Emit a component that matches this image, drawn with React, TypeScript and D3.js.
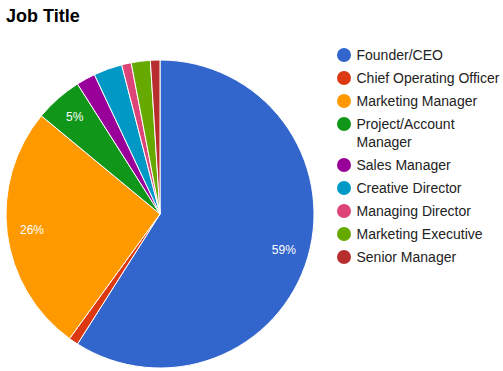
import React from "react";
import * as d3 from "d3";

const titles = [
  "Founder/CEO",
  "Chief Operating Officer",
  "Marketing Manager",
  "Project/Account Manager",
  "Sales Manager",
  "Creative Director",
  "Managing Director",
  "Marketing Executive",
  "Senior Manager",
];
const counts = [59, 1, 26, 5, 2, 3, 1, 2, 1];
const palette = ["#3366cc", "#dc3912", "#ff9900", "#109618", "#990099", "#0099c6", "#dd4477", "#66aa00", "#b82e2e"];
// legend lines as wrapped in the original
const legendLines = [
  ["Founder/CEO"],
  ["Chief Operating Officer"],
  ["Marketing Manager"],
  ["Project/Account", "Manager"],
  ["Sales Manager"],
  ["Creative Director"],
  ["Managing Director"],
  ["Marketing Executive"],
  ["Senior Manager"],
];

const font = "Arial, 'Liberation Sans', sans-serif";

const App = () => {
  const width = 503;
  const height = 371;
  const cx = 160;
  const cy = 214;
  const r = 154;

  const total = d3.sum(counts);
  const createPie = d3.pie<number>().value(d => d).sort(null);
  const createArc = d3.arc<d3.PieArcDatum<number>>().innerRadius(0).outerRadius(r);
  const labelArc = d3.arc<d3.PieArcDatum<number>>().innerRadius(129).outerRadius(129);
  const arcs = createPie(counts);
  const fmt = d3.format(".0%");

  let y = 55;
  const legendRows = legendLines.map((lines, i) => {
    const row = { y, lines, color: palette[i] };
    y += 23 + (lines.length - 1) * 18;
    return row;
  });

  return (
    <svg width={width} height={height} style={{ position: "fixed", left: 0, top: 0 }} fontFamily={font}>
      <rect width={width} height={height} fill="#fff" />
      <text x={6} y={22} fontSize={18} fontWeight="bold" fill="#000">
        Job Title
      </text>
      <g transform={`translate(${cx} ${cy})`}>
        {arcs.map((d, i) => (
          <path key={titles[i]} d={createArc(d) || ""} fill={palette[i]} stroke="#fff" strokeWidth={1} />
        ))}
        {arcs.map((d, i) => {
          const share = d.value / total;
          if (share < 0.045) return null;
          const [lx, ly] = labelArc.centroid(d);
          return (
            <text key={"l" + i} x={lx} y={ly} dy="0.35em" textAnchor="middle" fontSize={12} fill="#fff">
              {fmt(share)}
            </text>
          );
        })}
      </g>
      <g>
        {legendRows.map((row, i) => (
          <g key={"lg" + i}>
            <circle cx={344} cy={row.y} r={7} fill={row.color} />
            {row.lines.map((t, j) => (
              <text key={j} x={356.5} y={row.y + j * 18} dy="0.36em" fontSize={14} fill="#222">
                {t}
              </text>
            ))}
          </g>
        ))}
      </g>
    </svg>
  );
};

export default App;
